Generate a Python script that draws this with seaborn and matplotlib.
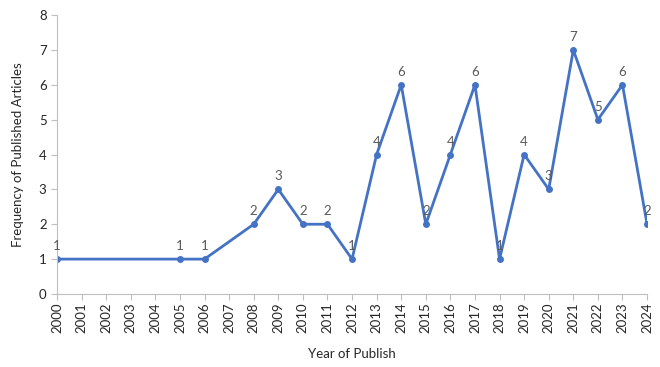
import matplotlib
matplotlib.use("Agg")
import matplotlib.pyplot as plt
import pandas as pd
import seaborn as sns

# data
years = [2000, 2005, 2006, 2008, 2009, 2010, 2011, 2012, 2013, 2014,
         2015, 2016, 2017, 2018, 2019, 2020, 2021, 2022, 2023, 2024]
counts = [1, 1, 1, 2, 3, 2, 2, 1, 4, 6,
          2, 4, 6, 1, 4, 3, 7, 5, 6, 2]
year_ticks = list(range(2000, 2025))

df = pd.DataFrame({"Year": years, "Count": counts})

sns.set_theme(style="white")
plt.rcParams["font.family"] = ["Lato", "DejaVu Sans"]

line_color = "#4472C4"
axis_gray = "#BFBFBF"
text_gray = "#595959"
label_dark = "#262626"

fig = plt.figure(figsize=(6.6, 3.67), dpi=100)
ax = fig.add_axes([0.0864, 0.199, 0.894, 0.76])

sns.lineplot(data=df, x="Year", y="Count", ax=ax, color=line_color,
             linewidth=2, marker="o", markersize=5, markeredgewidth=0)

for x, y in zip(years, counts):
    ax.annotate(str(y), (x, y), xytext=(0, 5), textcoords="offset points",
                ha="center", va="bottom", fontsize=9.5, color=text_gray)

ax.set_xlim(2000, 2024)
ax.set_ylim(0, 8)
ax.set_xticks(year_ticks)
ax.set_xticklabels([str(t) for t in year_ticks], rotation=90, fontsize=9.5,
                   color=label_dark)
ax.set_yticks(range(0, 9))
ax.tick_params(axis="y", labelsize=9.5, labelcolor=label_dark, length=4,
               color=axis_gray, left=True, width=0.8)
ax.tick_params(axis="x", length=4, color=axis_gray, bottom=True, width=0.8,
               pad=2)

for side in ["top", "right"]:
    ax.spines[side].set_visible(False)
for side in ["left", "bottom"]:
    ax.spines[side].set_color(axis_gray)
    ax.spines[side].set_linewidth(0.8)

ax.set_xlabel("Year of Publish", fontsize=9.5, color=label_dark, labelpad=11)
ax.set_ylabel("Frequency of Published Articles", fontsize=9.5,
              color=label_dark, labelpad=11)

fig.savefig("out.png", dpi=100)
